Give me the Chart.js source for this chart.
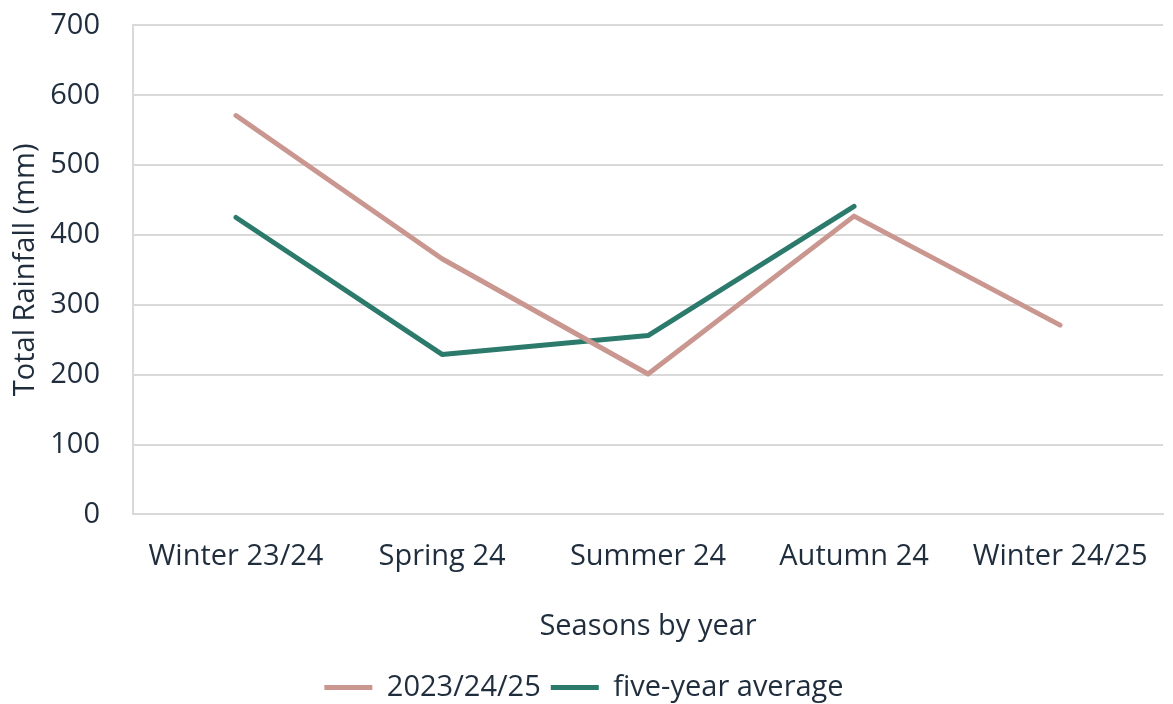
<!DOCTYPE html>
<html>
<head>
<meta charset="utf-8">
<script src="https://cdn.jsdelivr.net/npm/chart.js@4"></script>
<style>
    html, body { margin: 0; padding: 0; background: #fff; }
    #wrap { width: 1173px; height: 704px; }
</style>
</head>
<body>
<div id="wrap"><canvas id="rain-chart"></canvas></div>
<script>
const seasons = ['Winter 23/24', 'Spring 24', 'Summer 24', 'Autumn 24', 'Winter 24/25'];
const rainfall2023 = [571, 366, 201, 427, 271];
const fiveYearAverage = [425, 229, 256, 441, null];
const yTicks = [0, 100, 200, 300, 400, 500, 600, 700];

const textColor = '#1f2d3d';
const pink = '#c9978f';
const green = '#2b7a6b';

Chart.defaults.font.family = '"Open Sans", sans-serif';
Chart.defaults.font.size = 29;
Chart.defaults.color = textColor;

const ctx = document.getElementById('rain-chart').getContext('2d');

new Chart(ctx, {
    type: 'line',
    data: {
        labels: seasons,
        datasets: [{
            label: '2023/24/25',
            data: rainfall2023,
            borderColor: pink,
            backgroundColor: pink,
            borderWidth: 5,
            borderCapStyle: 'round',
            borderJoinStyle: 'round',
            pointRadius: 0,
            tension: 0
        }, {
            label: 'five-year average',
            data: fiveYearAverage,
            borderColor: green,
            backgroundColor: green,
            borderWidth: 5,
            borderCapStyle: 'round',
            borderJoinStyle: 'round',
            pointRadius: 0,
            tension: 0
        }]
    },
    options: {
        responsive: true,
        maintainAspectRatio: false,
        animation: false,
        layout: {
            padding: { top: 0, right: 5, left: 0, bottom: -8 }
        },
        scales: {
            x: {
                offset: true,
                grid: { display: false, drawTicks: false },
                border: { display: true, color: '#d9d9d9', width: 2 },
                ticks: {
                    padding: 25,
                    maxRotation: 0,
                    autoSkip: false
                },
                title: {
                    display: true,
                    text: 'Seasons by year',
                    padding: { top: 10, bottom: 19 }
                }
            },
            y: {
                min: 0,
                max: 700,
                afterBuildTicks: function(scale) {
                    scale.ticks = yTicks.map(v => ({ value: v }));
                },
                afterFit: function(scale) {
                    scale.width = 133;
                },
                grid: {
                    color: '#d9d9d9',
                    lineWidth: 2,
                    drawTicks: true,
                    tickLength: 25,
                    tickColor: 'rgba(0,0,0,0)'
                },
                border: { display: true, color: '#d9d9d9', width: 2 },
                ticks: {
                    padding: 8
                },
                title: {
                    display: true,
                    text: 'Total Rainfall (mm)',
                    padding: { top: 8, bottom: 4 }
                }
            }
        },
        plugins: {
            legend: {
                position: 'bottom',
                labels: {
                    usePointStyle: true,
                    pointStyle: 'line',
                    pointStyleWidth: 48,
                    boxHeight: 5,
                    padding: 10
                }
            },
            tooltip: { enabled: false }
        }
    }
});
</script>
</body>
</html>
